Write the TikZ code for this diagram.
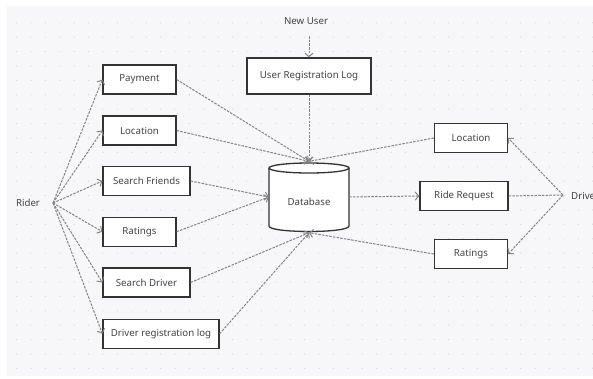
\documentclass[tikz,border=0pt]{standalone}
\usepackage{fontspec}
\setmainfont{Noto Sans}
\usetikzlibrary{arrows.meta}
\definecolor{bgcol}{HTML}{F7F7F9}
\definecolor{dotcol}{HTML}{D2D2D7}
\definecolor{linecol}{HTML}{848484}
\definecolor{txtcol}{HTML}{444444}
\definecolor{boxcol}{HTML}{333333}
\tikzset{
  box/.style={draw=boxcol, line width=1.3pt, fill=white, rectangle, inner sep=0pt,
              minimum height=29pt, text=txtcol, font=\fontsize{9.7}{11}\selectfont},
  lbl/.style={text=txtcol, inner sep=0pt, font=\fontsize{9.7}{11}\selectfont},
  conn/.style={draw=linecol, line width=1pt, dash pattern=on 2.5pt off 1.2pt,
               -{Straight Barb[length=3.5pt,width=8pt]}},
  plain/.style={draw=linecol, line width=1pt, dash pattern=on 2.5pt off 1.2pt}
}
\begin{document}
\begin{tikzpicture}[x=1pt,y=-1pt]
\useasboundingbox (0,0) rectangle (593,378);
\fill[white] (0,0) rectangle (593,378);
\fill[bgcol] (7,6) rectangle (593,376);
\foreach \i in {0,...,40}{
  \foreach \j in {0,...,24}{
    \fill[dotcol] (16.7+14.4*\i, 22.7+14.4*\j) circle (0.6pt);
  }
}
% nodes
\node[box, minimum width=73pt] (pay) at (139.5,79.5) {Payment};
\node[box, minimum width=73pt] (locL) at (139.5,130.5) {Location};
\node[box, minimum width=87pt] (sf) at (146.5,181) {Search Friends};
\node[box, minimum width=73pt] (ratL) at (139.5,231.7) {Ratings};
\node[box, minimum width=87pt] (sd) at (146.5,282.5) {Search Driver};
\node[box, minimum width=116pt] (drl) at (161,333.7) {Driver registration log};
\node[box, minimum width=124pt, minimum height=36pt] (url) at (309,76) {User Registration Log};
\node[box, minimum width=73pt] (locR) at (471,138) {Location};
\node[box, minimum width=88pt] (rr) at (464,196) {Ride Request};
\node[box, minimum width=73pt] (ratR) at (471,254) {Ratings};
\node[lbl] (rider) at (28,203) {Rider};
\coordinate (rp) at (53,203);
\node[lbl] (nu) at (306,21) {New User};
\coordinate (nup) at (309,36);
\node[lbl, anchor=west] (driver) at (571,195.5) {Driver};
\coordinate (dp) at (563,195);
% database cylinder
\fill[white] (269,168) -- (269,226) .. controls (269,233.3) and (349,233.3) .. (349,226) -- (349,168) -- cycle;
\fill[white] (309,168) ellipse [x radius=40pt, y radius=5pt];
\draw[boxcol, line width=1.3pt] (269,168) -- (269,226) .. controls (269,233.3) and (349,233.3) .. (349,226) -- (349,168);
\draw[boxcol, line width=1.3pt] (309,168) ellipse [x radius=40pt, y radius=5pt];
\node[lbl, minimum width=80pt, minimum height=71pt] (db) at (309,197) {};
\node[lbl] (dbt) at (309,202) {Database};
% connectors from rider
\foreach \n in {pay,locL,sf,ratL,sd,drl}{
  \draw[conn] (rp) -- (\n.west);
}
% to database
\draw[conn] (pay.east) -- (db.north);
\draw[conn] (locL.east) -- (db.north);
\draw[conn] (sf.east) -- (db.west);
\draw[conn] (ratL.east) -- (db.west);
\draw[conn] (sd.east) -- (db.south);
\draw[conn] (drl.east) -- (db.south);
\draw[conn] (nup) -- (url.north);
\draw[conn] (url.south) -- (db.north);
\draw[conn] (db.east) -- (rr.west);
\draw[conn] (locR.west) -- (db.north);
\draw[conn] (ratR.west) -- (db.south);
% driver
\draw[conn] (dp) -- (locR.east);
\draw[conn] (dp) -- (ratR.east);
\draw[plain] (rr.east) -- (dp);
\end{tikzpicture}
\end{document}
